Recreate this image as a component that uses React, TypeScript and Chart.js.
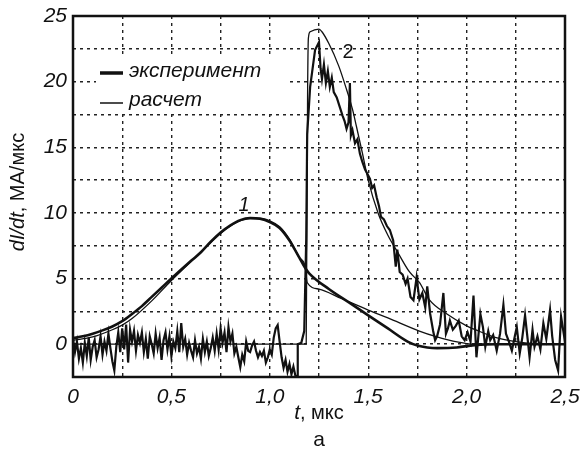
import React, { useEffect, useRef } from 'react';
import { Chart, registerables } from 'chart.js';

Chart.register(...registerables);

// ---- axes ----
const X_MIN = 0;
const X_MAX = 2.5;
const X_STEP = 0.25;
const Y_MIN = -2.5;
const Y_MAX = 25;
const Y_STEP = 2.5;

// ---- texts ----
const LEGEND_EXP = 'эксперимент';
const LEGEND_CALC = 'расчет';
const X_TITLE_VAR = 't';
const X_TITLE_UNIT = ', мкс';
const Y_TITLE_VAR = 'dI/dt';
const Y_TITLE_UNIT = ', МА/мкс';
const LABEL_1 = '1';
const LABEL_2 = '2';
const CAPTION = 'а';

// ---- curve 1, experiment (thick, smooth) ----
const EXP1_T = [0, 0.05, 0.1, 0.15, 0.2, 0.25, 0.3, 0.35, 0.4, 0.45, 0.5, 0.6, 0.65, 0.7, 0.75, 0.8, 0.85, 0.9, 0.95, 1.0, 1.05, 1.1, 1.12, 1.15, 1.18, 1.2, 1.3, 1.4, 1.5, 1.6, 1.7, 1.75, 1.8, 1.85, 1.95, 2.05, 2.15, 2.5];
const EXP1_V = [0.45, 0.6, 0.8, 1.05, 1.35, 1.75, 2.3, 2.9, 3.6, 4.3, 5.0, 6.35, 7.0, 7.8, 8.5, 9.05, 9.45, 9.6, 9.55, 9.3, 8.85, 7.9, 7.4, 6.6, 5.8, 5.4, 4.2, 3.2, 2.2, 1.2, 0.2, -0.1, -0.25, -0.3, -0.25, -0.05, 0, 0];

// ---- curve 1, calculation (thin, smooth) ----
const CALC1_T = [0, 0.1, 0.2, 0.25, 0.3, 0.4, 0.5, 0.6, 0.7, 0.8, 0.9, 0.95, 1.0, 1.05, 1.1, 1.15, 1.18, 1.19, 1.25, 1.36, 1.5, 1.6, 1.76, 1.85, 1.9, 2.0, 2.05, 2.5];
const CALC1_V = [0.3, 0.55, 1.1, 1.45, 1.95, 3.3, 4.85, 6.3, 7.75, 9.0, 9.6, 9.6, 9.4, 8.95, 8.0, 6.6, 5.9, 4.7, 4.2, 3.5, 2.6, 2.0, 1.0, 0.55, 0.35, 0.05, 0, 0];

// ---- curve 2, experiment (thick, noisy) ----
// baseline record before the pulse, sampled every 0.01 мкс from t = 0
const EXP2_BASE_START = 0;
const EXP2_BASE_STEP = 0.01;
const EXP2_BASE_V = [
  0.4, -0.6, 0.2, -1.1, -0.3, -1.4, 0.1, -0.9, 0.5, -1.2,
  -0.2, 0.3, -1.0, -0.4, 0.6, -0.8, 0.2, -0.5, 0.8, -0.3,
  -1.3, -2.0, -0.2, 0.9, -0.6, 1.2, -0.4, 1.5, -1.4, 1.1,
  0.2, 1.0, -0.5, 0.7, 0.1, 0.9, -0.6, 0.4, -1.1, 0.6,
  0.0, -0.7, 0.8, -0.3, 0.5, -1.2, 0.3, 0.9, -0.4, 0.6,
  -0.9, 0.2, -0.3, 1.0, -0.6, 1.6, -0.2, 0.4, -0.8, 0.1,
  -0.5, -1.0, 0.3, -0.7, -0.2, -1.1, 0.4, -0.6, 0.2, -0.9,
  -0.3, 0.5, -0.5, 0.8, -0.4, 1.2, 0.1, 0.9, -0.6, 1.3,
  0.2, 0.8, -0.7, -0.2, -1.0, -1.75, -0.8, -1.3, 0.2, -0.5,
  -0.6, -0.1, 0.2, -0.5, -1.0, -0.6, -0.9, -0.5, -1.4, -1.0,
  -0.4, -0.8, 0.5, 1.2, 1.45, 0.2, -1.0, -1.8, -1.2, -2.1,
  -1.5, -2.3, -1.7, -2.4,
];
// pulse and tail
const EXP2_PULSE_T = [1.14, 1.142, 1.16, 1.175, 1.185, 1.19, 1.205, 1.23, 1.25, 1.258, 1.265, 1.275, 1.285, 1.295, 1.305, 1.315, 1.325, 1.34, 1.355, 1.37, 1.38, 1.39, 1.4, 1.407, 1.412, 1.42, 1.433, 1.445, 1.458, 1.47, 1.484, 1.495, 1.509, 1.52, 1.53, 1.543, 1.555, 1.565, 1.58, 1.595, 1.61, 1.627, 1.64, 1.648, 1.66, 1.675, 1.69, 1.7, 1.715, 1.73, 1.746, 1.76, 1.775, 1.79, 1.8, 1.815, 1.83, 1.84, 1.85, 1.865, 1.882, 1.895, 1.905, 1.915, 1.93, 1.945, 1.96, 1.975, 1.99, 2.005, 2.02, 2.035, 2.05, 2.07, 2.083, 2.095, 2.11, 2.12, 2.135, 2.153, 2.17, 2.187, 2.2, 2.215, 2.23, 2.245, 2.255, 2.27, 2.283, 2.297, 2.31, 2.32, 2.335, 2.345, 2.36, 2.375, 2.39, 2.405, 2.424, 2.435, 2.45, 2.465, 2.48, 2.5];
const EXP2_PULSE_V = [-2.5, 0, 0.1, 1.0, 8.0, 16.0, 19.6, 22.4, 23.0, 21.0, 20.2, 21.3, 19.9, 20.8, 19.6, 20.3, 19.2, 18.8, 18.1, 17.4, 17.0, 16.4, 16.9, 19.9, 15.9, 16.3, 15.3, 15.6, 14.5, 13.9, 13.3, 13.0, 12.6, 11.9, 12.1, 11.2, 10.5, 9.7, 9.5, 9.0, 8.7, 7.9, 5.9, 7.2, 5.5, 5.3, 4.6, 5.0, 3.6, 3.35, 5.1, 3.4, 3.9, 2.8, 4.4, 2.3, 1.0, 0.3, 0.6, 1.5, 3.9, 0.8, 1.2, 1.8, 1.1, 1.4, 1.8, 0.6, 0.3, 0.9, 0.2, 3.7, -1.0, 2.3, 1.3, -0.2, 1.0, 0.3, 0.7, -0.5, 0.8, 3.0, 0.8, 0.2, -0.5, 0.6, 1.3, -0.7, 0.5, 2.2, 0.4, -1.0, 1.1, -0.2, 0.6, -0.4, 1.6, 0.4, 2.6, 0.6, -1.2, -2.0, 2.1, 0.2];

// ---- curve 2, calculation (thin, smooth) ----
const CALC2_T = [0, 1.185, 1.192, 1.196, 1.205, 1.25, 1.265, 1.3, 1.35, 1.39, 1.42, 1.44, 1.47, 1.5, 1.55, 1.6, 1.65, 1.71, 1.76, 1.81, 1.9, 2.0, 2.05, 2.15, 2.25, 2.35, 2.5];
const CALC2_V = [0, 0, 19.0, 23.3, 23.8, 24.0, 23.8, 22.9, 21.2, 19.4, 17.9, 16.6, 14.6, 12.5, 10.0, 8.3, 7.0, 5.5, 4.7, 3.4, 2.3, 1.4, 1.07, 0.5, 0.2, 0.05, 0];

const INK = '#111111';
const FONT = '"Liberation Sans", Arial, Helvetica, sans-serif';
const FS = 21;

function pairs(t: number[], v: number[]) {
  return t.map((x, i) => ({ x, y: v[i] }));
}

function fmt(v: number) {
  if (Math.abs(v) < 1e-9) return '0';
  return v.toFixed(1).replace('.', ',');
}

const decorPlugin = {
  id: 'decor',
  beforeDatasetsDraw(chart: any) {
    const { ctx } = chart;
    ctx.save();
    ctx.fillStyle = '#ffffff';
    ctx.fillRect(96, 54, 190, 58);
    ctx.restore();
  },
  afterDraw(chart: any) {
    const { ctx, chartArea } = chart;
    const { left, top, right, bottom } = chartArea;
    ctx.save();
    // frame
    ctx.strokeStyle = INK;
    ctx.lineWidth = 2.5;
    ctx.strokeRect(left, top, right - left, bottom - top);

    // legend
    ctx.lineCap = 'butt';
    ctx.lineWidth = 3.5;
    ctx.beginPath();
    ctx.moveTo(100, 73);
    ctx.lineTo(123, 73);
    ctx.stroke();
    ctx.lineWidth = 1.5;
    ctx.beginPath();
    ctx.moveTo(100, 103);
    ctx.lineTo(123, 103);
    ctx.stroke();
    ctx.fillStyle = INK;
    ctx.textBaseline = 'middle';
    ctx.textAlign = 'left';
    ctx.font = `italic ${FS}px ${FONT}`;
    ctx.fillText(LEGEND_EXP, 129, 71);
    ctx.fillText(LEGEND_CALC, 129, 100);

    // curve labels
    ctx.textAlign = 'center';
    ctx.font = `italic 20px ${FONT}`;
    ctx.fillText(LABEL_1, 244, 205);
    ctx.font = `20px ${FONT}`;
    ctx.fillText(LABEL_2, 348, 52);

    // x title
    ctx.textAlign = 'left';
    const cx = (left + right) / 2;
    ctx.font = `italic ${FS}px ${FONT}`;
    const wv = ctx.measureText(X_TITLE_VAR).width;
    ctx.font = `${FS - 1}px ${FONT}`;
    const wu = ctx.measureText(X_TITLE_UNIT).width;
    const x0 = cx - (wv + wu) / 2;
    ctx.font = `italic ${FS}px ${FONT}`;
    ctx.fillText(X_TITLE_VAR, x0, 413);
    ctx.font = `${FS - 1}px ${FONT}`;
    ctx.fillText(X_TITLE_UNIT, x0 + wv, 413);

    // caption
    ctx.textAlign = 'center';
    ctx.font = `${FS}px ${FONT}`;
    ctx.fillText(CAPTION, cx, 440);

    // y title
    ctx.save();
    ctx.translate(18, 192);
    ctx.rotate(-Math.PI / 2);
    ctx.textAlign = 'left';
    ctx.font = `italic 20px ${FONT}`;
    const yv = ctx.measureText(Y_TITLE_VAR).width;
    ctx.font = `20px ${FONT}`;
    const yu = ctx.measureText(Y_TITLE_UNIT).width;
    const y0 = -(yv + yu) / 2;
    ctx.font = `italic 20px ${FONT}`;
    ctx.fillText(Y_TITLE_VAR, y0, 0);
    ctx.font = `20px ${FONT}`;
    ctx.fillText(Y_TITLE_UNIT, y0 + yv, 0);
    ctx.restore();

    ctx.restore();
  },
};

export default function App() {
  const ref = useRef<HTMLCanvasElement>(null);

  useEffect(() => {
    const canvas = ref.current;
    if (!canvas) return;
    const exp2Base = EXP2_BASE_V.map((v, i) => ({ x: EXP2_BASE_START + i * EXP2_BASE_STEP, y: v }));
    const exp2 = exp2Base.concat(pairs(EXP2_PULSE_T, EXP2_PULSE_V));

    const chart = new Chart(canvas, {
      type: 'line',
      data: {
        datasets: [
          {
            label: 'calc2',
            data: pairs(CALC2_T, CALC2_V),
            borderColor: INK,
            borderWidth: 1.3,
            cubicInterpolationMode: 'monotone',
            pointRadius: 0,
          },
          {
            label: 'calc1',
            data: pairs(CALC1_T, CALC1_V),
            borderColor: INK,
            borderWidth: 1.3,
            cubicInterpolationMode: 'monotone',
            pointRadius: 0,
          },
          {
            label: 'exp1',
            data: pairs(EXP1_T, EXP1_V),
            borderColor: INK,
            borderWidth: 2.6,
            cubicInterpolationMode: 'monotone',
            pointRadius: 0,
          },
          {
            label: 'exp2',
            data: exp2,
            borderColor: INK,
            borderWidth: 2.2,
            tension: 0,
            pointRadius: 0,
          },
        ],
      },
      options: {
        responsive: false,
        animation: false,
        devicePixelRatio: 1,
        layout: { padding: { left: 0, top: 16, right: 21, bottom: 0 } },
        plugins: {
          legend: { display: false },
          tooltip: { enabled: false },
        },
        scales: {
          x: {
            type: 'linear',
            min: X_MIN,
            max: X_MAX,
            border: { display: false, dash: [3, 4] },
            grid: { color: '#222222', lineWidth: 1.4, drawTicks: false },
            ticks: {
              stepSize: X_STEP,
              autoSkip: false,
              maxRotation: 0,
              padding: 8,
              color: INK,
              font: { family: FONT, size: FS, style: 'italic' },
              callback: (val: any) => {
                const v = Number(val);
                return Math.abs(v * 2 - Math.round(v * 2)) < 1e-6 ? fmt(v) : '';
              },
            },
            afterFit: (s: any) => {
              s.height = 75;
              s.paddingLeft = 0;
              s.paddingRight = 0;
            },
          },
          y: {
            type: 'linear',
            min: Y_MIN,
            max: Y_MAX,
            border: { display: false, dash: [3, 4] },
            grid: { color: '#222222', lineWidth: 1.4, drawTicks: false },
            ticks: {
              stepSize: Y_STEP,
              autoSkip: false,
              padding: 6,
              color: INK,
              font: { family: FONT, size: FS, style: 'italic' },
              callback: (val: any) => {
                const v = Number(val);
                return v >= 0 && Math.abs(v / 5 - Math.round(v / 5)) < 1e-6 ? String(Math.round(v)) : '';
              },
            },
            afterFit: (s: any) => {
              s.width = 73;
              s.paddingTop = 0;
              s.paddingBottom = 0;
            },
          },
        },
      },
      plugins: [decorPlugin],
    });

    return () => chart.destroy();
  }, []);

  return (
    <div style={{ position: 'fixed', left: 0, top: 0, width: 586, height: 452, background: '#ffffff' }}>
      <canvas ref={ref} width={586} height={452} style={{ display: 'block', width: 586, height: 452 }} />
    </div>
  );
}
